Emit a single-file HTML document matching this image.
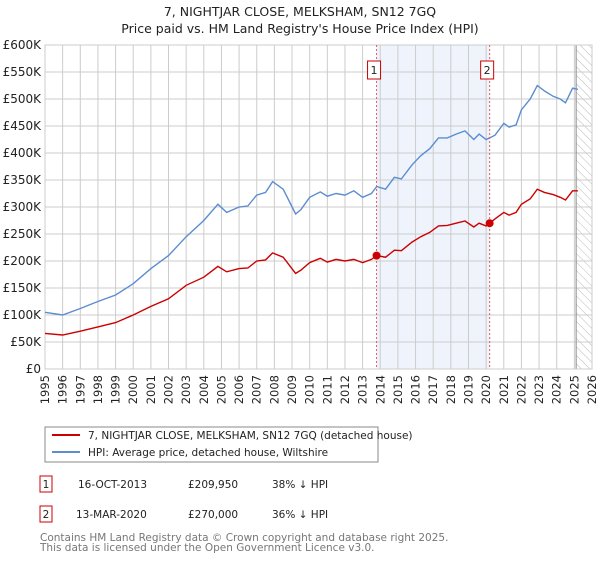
<!DOCTYPE html>
<html><head><meta charset="utf-8"><style>
body{margin:0;background:#fff;font-family:"Liberation Sans","DejaVu Sans",sans-serif;}
svg text{font-family:"DejaVu Sans","Liberation Sans",sans-serif;}
</style></head><body>
<svg id="c" width="600" height="560" xmlns="http://www.w3.org/2000/svg">
<text x="300" y="16" text-anchor="middle" font-size="12.5" fill="#222">7, NIGHTJAR CLOSE, MELKSHAM, SN12 7GQ</text>
<text x="300" y="33" text-anchor="middle" font-size="12.5" fill="#222">Price paid vs. HM Land Registry's House Price Index (HPI)</text>
<defs><pattern id="hatch" width="6" height="6" patternUnits="userSpaceOnUse" patternTransform="rotate(-45)"><line x1="0" y1="0" x2="0" y2="6" stroke="#bbb" stroke-width="1"/></pattern></defs>
<g id="plot"></g>
<rect x="45" y="427" width="333" height="35" fill="#fff" stroke="#888"/>
<line x1="52" y1="435" x2="80" y2="435" stroke="#cc0000" stroke-width="2"/>
<text x="88" y="439" font-size="10.5" fill="#222">7, NIGHTJAR CLOSE, MELKSHAM, SN12 7GQ (detached house)</text>
<line x1="52" y1="452" x2="80" y2="452" stroke="#5b8dd0" stroke-width="2"/>
<text x="88" y="456" font-size="10.5" fill="#222">HPI: Average price, detached house, Wiltshire</text>
<g font-size="10.5" fill="#222">
<rect x="40" y="476" width="12" height="16" fill="#fff" stroke="#cc0000"/><text x="46" y="488" text-anchor="middle">1</text>
<text x="78" y="488">16-OCT-2013</text><text x="188" y="488">£209,950</text><text x="272" y="488">38% ↓ HPI</text></g>
<g font-size="10.5" fill="#222">
<rect x="40" y="506" width="12" height="16" fill="#fff" stroke="#cc0000"/><text x="46" y="518" text-anchor="middle">2</text>
<text x="76" y="518">13-MAR-2020</text><text x="188" y="518">£270,000</text><text x="272" y="518">36% ↓ HPI</text></g>
<text x="40" y="541" font-size="10.5" fill="#777">Contains HM Land Registry data © Crown copyright and database right 2025.</text>
<text x="40" y="551" font-size="10.5" fill="#777">This data is licensed under the Open Government Licence v3.0.</text>
</svg>
<script>
const years=[1995,1996,1997,1998,1999,2000,2001,2002,2003,2004,2004.8,2005.3,2006,2006.5,2007,2007.5,2007.9,2008.5,2009.2,2009.5,2010,2010.6,2011,2011.5,2012,2012.5,2013,2013.5,2013.8,2014.3,2014.8,2015.2,2015.8,2016.3,2016.8,2017.3,2017.8,2018.3,2018.8,2019.3,2019.6,2020.0,2020.5,2021,2021.3,2021.7,2022,2022.5,2022.9,2023.3,2023.8,2024.2,2024.5,2024.9,2025.2];
const hpi=[105,100,112,125,137,158,186,210,245,275,305,290,300,302,322,327,347,333,287,295,318,328,320,325,322,330,318,325,338,333,355,352,378,395,408,428,428,435,441,425,435,425,433,455,448,452,480,500,525,515,505,500,493,520,518];
const price=[66,63,70,78,86,100,116,130,155,170,190,180,186,187,200,202,215,207,177,183,197,205,198,203,200,203,197,203,210,207,220,219,235,245,253,265,266,270,274,263,270,265,278,290,285,290,305,315,333,327,323,318,313,330,330];
const yTicks=[0,50,100,150,200,250,300,350,400,450,500,550,600];
const yTickLabels=["£0","£50K","£100K","£150K","£200K","£250K","£300K","£350K","£400K","£450K","£500K","£550K","£600K"];
const xTicks=[1995,1996,1997,1998,1999,2000,2001,2002,2003,2004,2005,2006,2007,2008,2009,2010,2011,2012,2013,2014,2015,2016,2017,2018,2019,2020,2021,2022,2023,2024,2025,2026];
const saleDates=[2013.79,2020.2];
const salePrices=[209.95,270];
const saleLabels=["1","2"];
const X0=45,X1=592,Y0=369,Y1=45;
const x=v=>X0+(v-1995)/31*(X1-X0);
const y=v=>Y0-v/600*(Y0-Y1);
const NS="http://www.w3.org/2000/svg";
const g=document.getElementById('plot');
function mk(t,a){const e=document.createElementNS(NS,t);for(const k in a)e.setAttribute(k,a[k]);g.appendChild(e);return e;}
let e=mk('rect',{x:x(saleDates[0]),y:Y1,width:x(saleDates[1])-x(saleDates[0]),height:Y0-Y1,fill:'#eef3fc'});


e=mk('rect',{x:x(2025.1),y:Y1,width:X1-x(2025.1),height:Y0-Y1,fill:'url(#hatch)'});


yTicks.forEach((v,i)=>{
 e=mk('line',{x1:X0,x2:X1,y1:y(v),y2:y(v),stroke:'#ccc'});
 
 
 e=mk('text',{x:X0-4,y:y(v)+4,'text-anchor':'end','font-size':'12',fill:'#222'});e.textContent=yTickLabels[i];
 
 
});
xTicks.forEach(v=>{
 e=mk('line',{x1:x(v),x2:x(v),y1:Y1,y2:Y0,stroke:'#ccc'});
 
 
 e=mk('text',{x:0,y:0,'text-anchor':'end','font-size':'11.5',fill:'#222',transform:`translate(${x(v)+4},${Y0+6}) rotate(-90)`});e.textContent=v;
 
 
});
e=mk('line',{x1:x(2025.1),x2:x(2025.1),y1:Y1,y2:Y0,stroke:'#888'});


e=mk('rect',{x:X0,y:Y1,width:X1-X0,height:Y0-Y1,fill:'none',stroke:'#ccc'});


function path(vals,col,name){
 const d=years.map((t,i)=>(i?'L':'M')+x(t).toFixed(1)+','+y(vals[i]).toFixed(1)).join('');
 const p=mk('path',{d:d,fill:'none',stroke:col,'stroke-width':1.4});
 
 
}
path(hpi,'#5b8dd0','hpi-line');
path(price,'#cc0000','property-price-line');
saleDates.forEach((t,i)=>{
 e=mk('line',{x1:x(t),x2:x(t),y1:Y1,y2:Y0,stroke:'#e06060','stroke-dasharray':'2,2'});
 
 
 e=mk('circle',{cx:x(t),cy:y(salePrices[i]),r:4,fill:'#cc0000'});
 
 
 e=mk('rect',{x:x(t)-9,y:61,width:13,height:18,fill:'#fff',stroke:'#cc0000'});
 
 
 e=mk('text',{x:x(t)-2.5,y:74,'text-anchor':'middle','font-size':'11',fill:'#222'});e.textContent=saleLabels[i];
 
 
});
</script>
</body></html>
